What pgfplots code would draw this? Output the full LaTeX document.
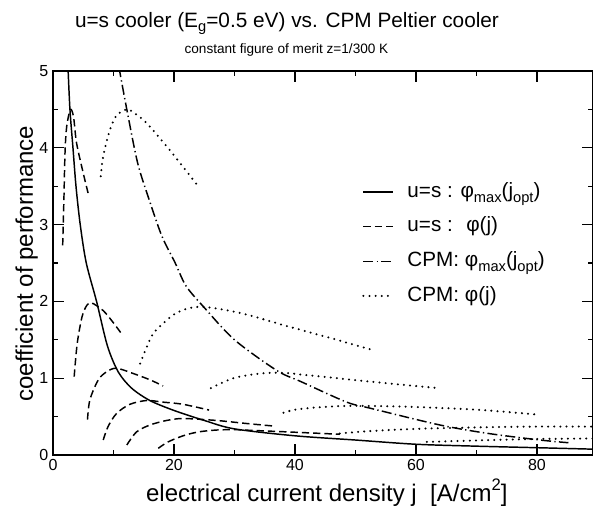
\documentclass[border=0pt]{standalone}
\usepackage{fontspec}
\setmainfont{Liberation Sans}
\usepackage{pgfplots}
\pgfplotsset{compat=1.18}
\newcommand{\lsub}[1]{\raisebox{-0.45ex}{\fontsize{11}{12}\selectfont #1}}
\newcommand{\tsub}[1]{\raisebox{-0.45ex}{\fontsize{11}{12}\selectfont #1}}
\newcommand{\xsup}[1]{\raisebox{0.85ex}{\fontsize{12.5}{14}\selectfont #1}}
\pgfplotsset{dotsty/.style={line width=1.7pt, line cap=round, dash pattern=on 0pt off 4.6pt}}
\begin{document}
\begin{tikzpicture}
\begin{axis}[
  at={(0,0)}, anchor=south west,
  scale only axis, width=405pt, height=288pt,
  xmin=0, xmax=89.26, ymin=0, ymax=5,
  xtick={0,20,40,60,80}, ytick={0,1,2,3,4,5},
  minor x tick num=1, minor y tick num=1,
  tick align=inside,
  xtick pos=both, ytick pos=both,
  major tick length=7.9pt, minor tick length=3.8pt,
  axis line style={line width=1.1pt},
  tick style={line width=0.8pt, black},
  xticklabel style={font=\fontsize{12}{14}\selectfont},
  yticklabel style={font=\fontsize{12}{14}\selectfont},
  /pgf/number format/assume math mode=true,
  xlabel={electrical current density j \ [A/cm\xsup{2}]},
  xlabel style={font=\fontsize{18}{21}\selectfont, at={(axis description cs:0.507,0)}, anchor=base, yshift=-34.5pt},
  legend style={draw=none, fill=none, font=\fontsize{15.5}{18}\selectfont,
    at={(axis cs:51.07,3.585)}, anchor=north west, inner sep=0pt, row sep=8pt,
    nodes={inner sep=0pt, text height=13pt, text depth=5pt},
    /tikz/every odd column/.append style={column sep=9.75pt}},
  legend cell align=left,
  legend image code/.code={\draw[#1] (0pt,0pt) -- (22.5pt,0pt);},
  every axis plot/.append style={black, line width=1.1pt},
]
% u=s phi_max(j_opt)
\addplot[solid, smooth] coordinates {(2.45,5.1) (2.8,4.5) (3.3,4.0) (3.8,3.5) (4.5,3.0) (5.5,2.5) (7.2,2.0) (9,1.42) (10.8,1.08) (13,0.87) (16,0.71) (20,0.58) (25,0.45) (30,0.34) (40,0.25) (50,0.195) (60,0.14) (70,0.115) (80,0.095) (89.3,0.076)};
\addlegendentry{u=s : φ\lsub{max}(j\lsub{opt})}
% u=s phi(j)
\addplot[dash pattern=on 5.5pt off 3pt, smooth] coordinates {(1.6,2.73) (1.8,3.32) (2.0,3.97) (2.3,4.3) (2.9,4.5) (3.4,4.4) (3.9,4.06) (5.0,3.67) (5.8,3.41)};
\addlegendentry{u=s : \ φ(j)}
\addplot[dash pattern=on 5.5pt off 3pt, smooth, forget plot] coordinates {(3.5,1.02) (4.0,1.45) (4.8,1.8) (5.6,1.95) (6.4,1.98) (8.3,1.88) (10,1.72) (11.5,1.56)};
\addplot[dash pattern=on 5.5pt off 3pt, smooth, forget plot] coordinates {(5.7,0.46) (6.1,0.72) (7.5,0.98) (8.9,1.085) (10.5,1.13) (13.3,1.06) (16,0.98) (18.2,0.9)};
\addplot[dash pattern=on 5.5pt off 3pt, smooth, forget plot] coordinates {(8.3,0.195) (9.1,0.37) (10.5,0.54) (12.7,0.66) (15.5,0.71) (18,0.69) (21.5,0.66) (25.8,0.585)};
\addplot[dash pattern=on 5.5pt off 3pt, smooth, forget plot] coordinates {(12.2,0.13) (13.8,0.3) (16,0.39) (18.8,0.45) (21.5,0.475) (27,0.45) (32,0.41) (36.5,0.377)};
\addplot[dash pattern=on 5.5pt off 3pt, smooth, forget plot] coordinates {(17.4,0.087) (19,0.17) (21.5,0.25) (24,0.3) (27,0.325) (30,0.33) (33,0.32) (39,0.3) (47.4,0.27)};
% CPM phi_max(j_opt)
\addplot[dash pattern=on 7.5pt off 2.5pt on 1pt off 2.5pt, smooth] coordinates {(10.9,5.05) (12.2,4.5) (14,3.8) (16,3.3) (18,2.85) (20.2,2.5) (22,2.2) (25,1.92) (30,1.5) (37,1.1) (41,0.955) (48.5,0.69) (52.4,0.61) (64,0.39) (72,0.28) (80.5,0.195) (85.2,0.16)};
\addlegendentry{CPM: φ\lsub{max}(j\lsub{opt})}
% CPM phi(j)
\addplot[dotsty, smooth] coordinates {(7.9,3.63) (8.3,3.89) (9.4,4.23) (10.5,4.42) (12.2,4.5) (13.5,4.45) (15.5,4.32) (19.3,3.97) (23.8,3.52)};
\addlegendentry{CPM: φ(j)}
\addplot[dotsty, smooth, forget plot] coordinates {(14.4,1.19) (16,1.5) (17.1,1.63) (20.4,1.85) (24.3,1.93) (30.9,1.85) (38.6,1.68) (46,1.52) (52.7,1.37)};
\addplot[dotsty, smooth, forget plot] coordinates {(26.1,0.87) (29.8,1.0) (34.2,1.06) (38,1.07) (42,1.04) (51.9,0.96) (63.7,0.87)};
\addplot[dotsty, smooth, forget plot] coordinates {(38.1,0.55) (40,0.59) (43.6,0.62) (49,0.64) (58,0.63) (70,0.59) (79.6,0.53)};
\addplot[dotsty, smooth, forget plot] coordinates {(47.4,0.28) (52,0.31) (60,0.34) (70,0.36) (80,0.37) (89.3,0.37)};
\addplot[dotsty, smooth, forget plot] coordinates {(61.8,0.17) (68,0.185) (75,0.2) (82,0.21) (89.3,0.215)};
\end{axis}
\node[rotate=90, anchor=base, font=\fontsize{18}{21}\selectfont] at (-15pt,143.6pt) {coefficient of performance};
\node[anchor=base, font=\fontsize{15.6}{18}\selectfont] at (175.5pt,321pt) {u=s cooler (E\tsub{g}=0.5 eV) vs. CPM Peltier cooler};
\node[anchor=base, font=\fontsize{10.2}{12}\selectfont] at (175.1pt,301.5pt) {constant figure of merit z=1/300 K};
\pgfresetboundingbox
\path (-39.75pt,-42.75pt) rectangle (405pt,341.25pt);
\end{tikzpicture}
\end{document}
